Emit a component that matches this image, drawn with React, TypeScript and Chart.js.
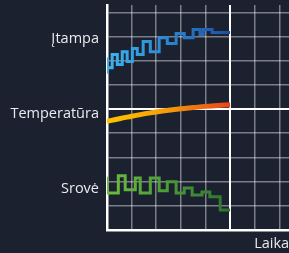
import React, { useEffect, useRef } from 'react';
import { Chart, registerables } from 'chart.js';
Chart.register(...registerables);

// Labels
const seriesNames = ['Įtampa', 'Temperatūra', 'Srovė'];
const labelPositions = [7.88, 4.78, 1.72];
const xTitle = 'Laikas';

// Grid ticks
const gridTicksX = [0, 1, 2, 3, 4, 5, 6, 7];
const gridTicksY = [0, 1, 2, 3, 4, 5, 6, 7, 8, 9];
const nowValue = 5;

// Įtampa (stepped)
const voltageX = [0, 0, 0.21, 0.42, 0.62, 0.82, 1.03, 1.23, 1.47, 1.76, 2.12, 2.45, 2.81, 3.14, 3.5, 3.78, 3.91, 4.27, 4.6, 5.0];
const voltageY = [6.46, 7.13, 6.71, 7.25, 6.84, 7.37, 6.96, 7.5, 7.25, 7.79, 7.37, 7.95, 7.71, 8.12, 7.95, 8.29, 8.08, 8.29, 8.16, 8.16];

// Temperatūra
const tempX = [0, 0.5, 1, 1.5, 2, 2.5, 3, 3.5, 4, 4.5, 5];
const tempY = [4.49, 4.6, 4.7, 4.8, 4.88, 4.95, 5.01, 5.06, 5.11, 5.15, 5.18];

// Srovė (stepped)
const currentX = [0, 0, 0.46, 0.74, 1.15, 1.35, 1.76, 2.12, 2.45, 2.81, 3.14, 3.46, 3.86, 4.18, 4.6, 5.0];
const currentY = [1.49, 2.2, 1.53, 2.24, 1.66, 2.15, 1.53, 2.15, 1.62, 1.99, 1.53, 1.74, 1.45, 1.57, 1.37, 0.83];

const BG = '#1c2130';
const FONT = 'Open Sans';
const GRID = 'rgba(255,255,255,0.42)';

function zip(xs: number[], ys: number[]) {
  return xs.map((x, i) => ({ x, y: ys[i] }));
}

function hGradient(chart: any, stops: string[]) {
  const { ctx, chartArea, scales } = chart;
  if (!chartArea || !scales.x) return stops[0];
  const x0 = scales.x.getPixelForValue(0);
  const x1 = scales.x.getPixelForValue(nowValue);
  const g = ctx.createLinearGradient(x0, 0, x1, 0);
  stops.forEach((c, i) => g.addColorStop(i / (stops.length - 1), c));
  return g;
}

export default function App() {
  const ref = useRef<HTMLCanvasElement>(null);
  useEffect(() => {
    document.body.style.margin = '0';
    document.body.style.background = BG;
    const chart = new Chart(ref.current!, {
      type: 'line',
      data: {
        datasets: [
          {
            label: seriesNames[0],
            data: zip(voltageX, voltageY),
            stepped: 'after',
            borderWidth: 3,
            borderColor: (c: any) => hGradient(c.chart, ['#3cb4f0', '#2a86d2', '#1b4ea5']),
            pointRadius: 0,
          },
          {
            label: seriesNames[1],
            data: zip(tempX, tempY),
            tension: 0.4,
            borderWidth: 5,
            borderColor: (c: any) => hGradient(c.chart, ['#ffc400', '#f59a0a', '#e8421e']),
            pointRadius: 0,
          },
          {
            label: seriesNames[2],
            data: zip(currentX, currentY),
            stepped: 'after',
            borderWidth: 3,
            borderColor: (c: any) => hGradient(c.chart, ['#6cbd3c', '#4a9a36', '#2b7430']),
            pointRadius: 0,
          },
        ],
      },
      options: {
        animation: false,
        responsive: false,
        layout: { padding: { top: 5, left: 0, right: 0, bottom: 0 } },
        plugins: { legend: { display: false }, tooltip: { enabled: false } },
        scales: {
          x: {
            type: 'linear',
            min: 0,
            max: 7.68,
            afterBuildTicks: (s: any) => {
              s.ticks = gridTicksX.map((v) => ({ value: v }));
            },
            afterFit: (s: any) => {
              s.height = 23;
              s.paddingLeft = 0;
              s.paddingRight = 0;
            },
            ticks: { display: false },
            grid: {
              drawTicks: false,
              lineWidth: (c: any) => (c.tick && c.tick.value === nowValue ? 2 : 1.5),
              color: (c: any) => (c.tick && c.tick.value === nowValue ? '#ffffff' : GRID),
            },
            border: { color: '#ffffff', width: 2.5 },
            title: {
              display: true,
              text: xTitle,
              align: 'end',
              color: '#e8eaee',
              font: { family: FONT, size: 14.5 },
              padding: { top: 0, bottom: 0 },
            },
          },
          y: {
            type: 'linear',
            min: 0,
            max: 9.3,
            afterBuildTicks: (s: any) => {
              s.ticks = [...gridTicksY, ...labelPositions].sort((a, b) => a - b).map((v) => ({ value: v }));
            },
            afterFit: (s: any) => {
              s.width = 107;
              s.paddingTop = 0;
              s.paddingBottom = 0;
            },
            ticks: {
              autoSkip: false,
              padding: 8,
              color: '#e8eaee',
              font: { family: FONT, size: 14.5 },
              callback: (v: any) => {
                const i = labelPositions.indexOf(v);
                return i >= 0 ? seriesNames[i] : '';
              },
            },
            grid: {
              drawTicks: false,
              lineWidth: (c: any) => (c.tick && c.tick.value === nowValue ? 2 : 1.5),
              color: (c: any) => {
                const v = c.tick ? c.tick.value : -1;
                if (!Number.isInteger(v)) return 'rgba(0,0,0,0)';
                return v === nowValue ? '#ffffff' : GRID;
              },
            },
            border: { color: '#ffffff', width: 2.5 },
          },
        },
      },
    } as any);
    return () => chart.destroy();
  }, []);
  return (
    <div style={{ width: 289, height: 253, overflow: 'hidden', background: BG }}>
      <canvas ref={ref} width={296} height={253} style={{ display: 'block' }} />
    </div>
  );
}
